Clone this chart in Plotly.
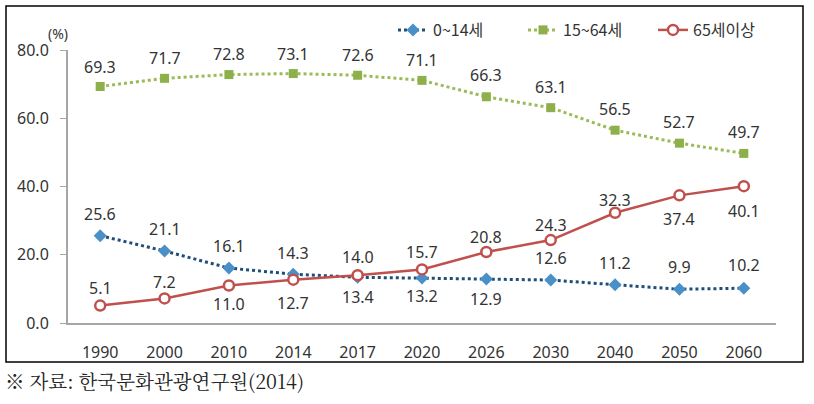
import plotly.graph_objects as go

years = ["1990", "2000", "2010", "2014", "2017", "2020", "2026", "2030", "2040", "2050", "2060"]
age_0_14 = [25.6, 21.1, 16.1, 14.3, 13.4, 13.2, 12.9, 12.6, 11.2, 9.9, 10.2]
age_15_64 = [69.3, 71.7, 72.8, 73.1, 72.6, 71.1, 66.3, 63.1, 56.5, 52.7, 49.7]
age_65_plus = [5.1, 7.2, 11.0, 12.7, 14.0, 15.7, 20.8, 24.3, 32.3, 37.4, 40.1]
series_names = ["0~14세", "15~64세", "65세이상"]
y_ticks = [0, 20, 40, 60, 80]

# label offsets in px (styling only)
shift_0_14 = [22, 22, 22, 21, -20, -18, -20, 22, 22, 22, 23]
shift_15_64 = [20, 20, 21, 20, 20, 20, 22, 21, 21, 21, 21]
shift_65 = [18, 16, -19, -23, 18, 17, 15, 15, 13, -24, -25]

FONT = "Noto Sans, Noto Sans CJK KR, sans-serif"
TXT = "#333333"

fig = go.Figure()
fig.add_trace(go.Scatter(
    x=years, y=age_0_14, name=series_names[0], mode="lines+markers",
    line=dict(color="#1F4E79", width=3, dash="dot"),
    marker=dict(symbol="diamond", size=10, color="#4A90C8"),
))
fig.add_trace(go.Scatter(
    x=years, y=age_15_64, name=series_names[1], mode="lines+markers",
    line=dict(color="#9BBB59", width=3, dash="dot"),
    marker=dict(symbol="square", size=9, color="#8DB04A"),
))
fig.add_trace(go.Scatter(
    x=years, y=age_65_plus, name=series_names[2], mode="lines+markers",
    line=dict(color="#C0504D", width=2.5),
    marker=dict(symbol="circle", size=10, color="white", line=dict(color="#C0504D", width=2.5)),
))

W, H = 814, 404
ml, mr, mt, mb = 68, 38, 50, 81
pw, ph = W - ml - mr, H - mt - mb


def px_x(v):
    return (v - ml) / pw


def px_y(v):
    return 1 - (v - mt) / ph


annotations = []
for vals, shifts in [(age_0_14, shift_0_14), (age_15_64, shift_15_64), (age_65_plus, shift_65)]:
    for i, (yv, s) in enumerate(zip(vals, shifts)):
        annotations.append(dict(
            x=i, y=yv, xref="x", yref="y", text=f"{yv:.1f}", showarrow=False,
            yshift=s, font=dict(family=FONT, size=16, color=TXT),
        ))
annotations.append(dict(
    x=px_x(58), y=px_y(33), xref="paper", yref="paper", xanchor="center", yanchor="middle",
    text="(%)", showarrow=False, font=dict(family=FONT, size=14, color=TXT),
))
annotations.append(dict(
    x=px_x(3), y=px_y(381), xref="paper", yref="paper", xanchor="left", yanchor="middle",
    text="※ 자료: 한국문화관광연구원(2014)", showarrow=False,
    font=dict(family="Noto Serif CJK KR, Noto Sans CJK KR, serif", size=19.5, color="#222222"),
))

fig.update_layout(
    width=W, height=H,
    margin=dict(l=ml, r=mr, t=mt, b=mb),
    paper_bgcolor="white", plot_bgcolor="white",
    font=dict(family=FONT, size=16, color=TXT),
    annotations=annotations,
    showlegend=True,
    legend=dict(
        orientation="h", x=px_x(393), xanchor="left", y=px_y(30), yanchor="middle",
        font=dict(family="Noto Sans CJK KR, sans-serif", size=16, color=TXT),
        bgcolor="rgba(0,0,0,0)", entrywidth=85, itemwidth=30,
    ),
    shapes=[dict(
        type="rect", xref="paper", yref="paper",
        x0=px_x(6), x1=px_x(803), y0=px_y(362), y1=px_y(6),
        line=dict(color="black", width=1.5), fillcolor="rgba(0,0,0,0)",
    )],
)
fig.update_xaxes(
    type="category", range=[-0.5, 10.5], showline=True, linecolor="#A6A6A6", linewidth=2,
    showgrid=False, ticks="", ticklabelstandoff=14, zeroline=False,
    tickfont=dict(family=FONT, size=16, color=TXT),
)
fig.update_yaxes(
    range=[0, 80], tickvals=y_ticks, tickformat=".1f", showline=True, linecolor="#A6A6A6",
    linewidth=2, ticks="outside", ticklen=6, tickcolor="#A6A6A6", showgrid=False, zeroline=False,
    ticklabelstandoff=8, tickfont=dict(family=FONT, size=16, color=TXT),
)

fig.write_html(
    "out.html",
    config={"displayModeBar": False},
    post_script="document.body.style.margin='0';document.body.style.overflow='hidden';",
)
